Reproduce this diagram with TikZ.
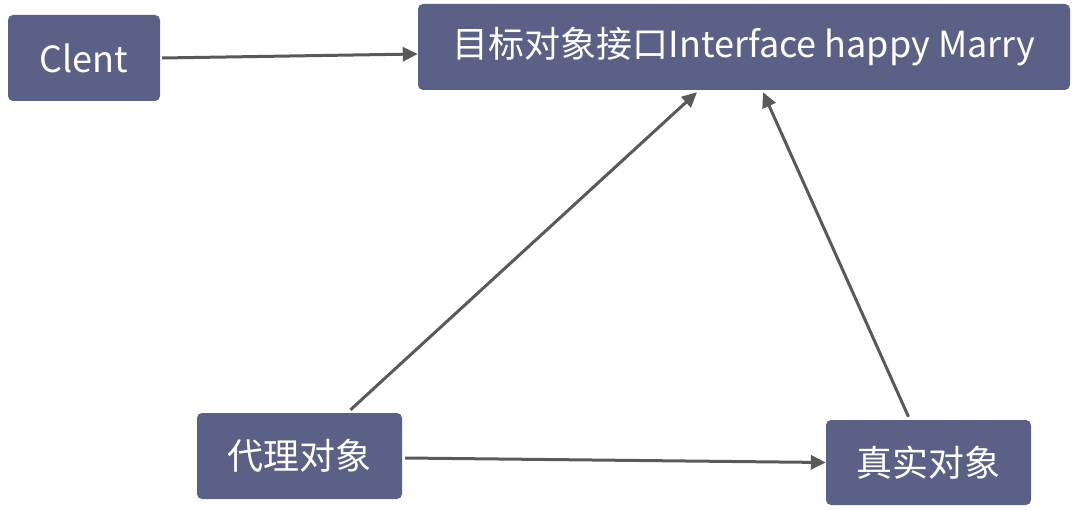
\documentclass[tikz,border=0pt]{standalone}
\usepackage{fontspec}
\setmainfont{Noto Sans CJK SC}
\usetikzlibrary{arrows.meta,calc}
\definecolor{boxfill}{HTML}{5A6086}
\definecolor{linkgray}{HTML}{595959}
\begin{document}
\begin{tikzpicture}[x=1pt, y=-1pt,
    box/.style={fill=boxfill, text=white, rounded corners=5pt, inner sep=0pt, minimum height=86pt, font=\fontsize{36}{40}\selectfont},
    link/.style={draw=linkgray, line width=3pt, -{Triangle[length=15pt,width=14pt]}}]
          \useasboundingbox (0,0) rectangle (1078,510);
          \node[box, minimum width=152pt] (nClent) at (84,58) {Clent};
          \node[box, minimum width=652pt] (nIface) at (744,47) {目标对象接口Interface happy Marry};
          \node[box, minimum width=205pt] (nProxy) at (299.5,456) {代理对象};
          \node[box, minimum width=205pt, minimum height=85pt] (nReal) at (928.5,462.5) {真实对象};
          
          \draw[link] ([xshift=2pt]nClent.east) -- ([yshift=-7pt]nIface.west);
          \draw[link] ([xshift=51pt, yshift=3pt]nProxy.north) -- ([xshift=-47pt, yshift=-2pt]nIface.south);
          \draw[link] ([xshift=-20pt, yshift=3pt]nReal.north) -- ([xshift=19pt, yshift=-2pt]nIface.south);
          \draw[link] ([xshift=3pt, yshift=-2pt]nProxy.east) -- (nReal.west);
        \end{tikzpicture}
\end{document}
